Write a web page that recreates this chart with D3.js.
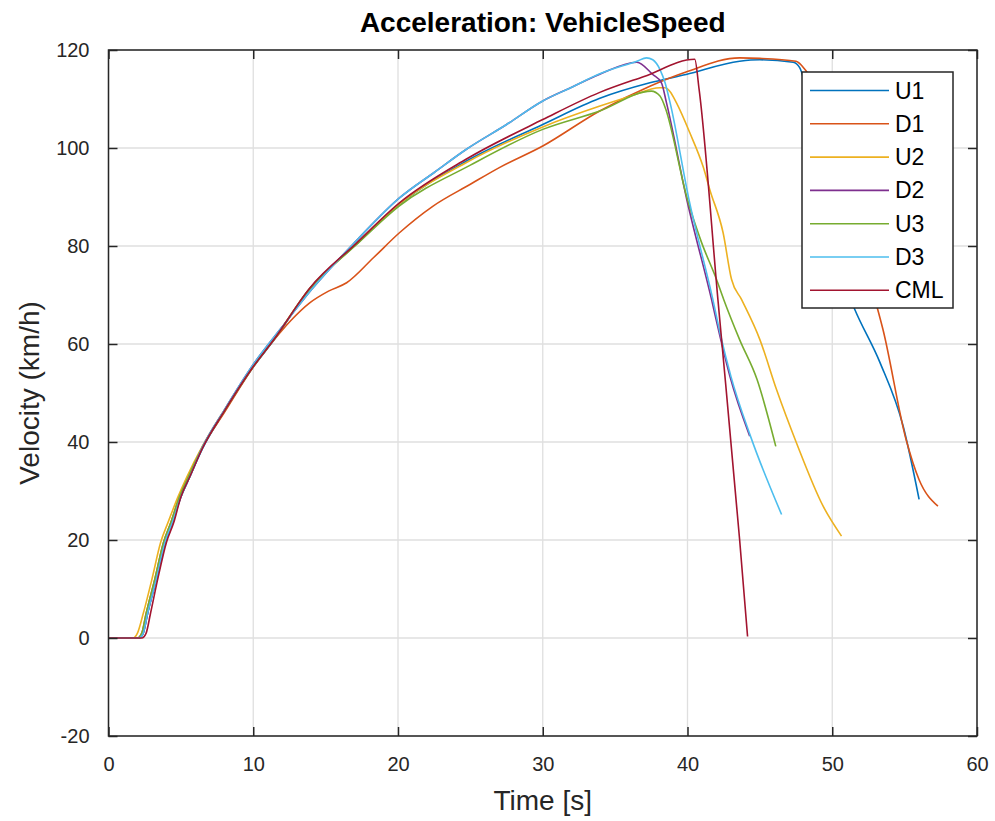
<!DOCTYPE html>
<html>
<head>
<meta charset="utf-8">
<script src="https://cdn.jsdelivr.net/npm/d3@7"></script>
<style>
  html, body { margin: 0; padding: 0; background: #fff; }
  svg { display: block; }
</style>
</head>
<body>
<svg id="chart" width="995" height="821"></svg>
<script>
// ---- data (time in s, velocity in km/h) ----
const seriesNames = ["U1", "D1", "U2", "D2", "U3", "D3", "CML"];
const seriesColors = ["#0072BD", "#D95319", "#EDB120", "#7E2F8E", "#77AC30", "#4DBEEE", "#A2142F"];

const u1T = [0,2.1,2.4,2.7,3.3,3.9,4.4,5.0,5.6,6.5,8,10,11.4,13.9,17.1,20.1,24.7,30,33.9,37.4,39.9,43.6,45,47.3,47.75,49.5,50.5,51.55,53.3,54.9,56.0];
const u1V = [0,0,1,5,12,19.5,23.5,28.8,32.8,38.7,46.2,55.3,60.7,71.3,80.3,88.5,97.3,104.8,110.1,113.3,115,117.7,118,117.5,116.4,86,75,67.1,56.2,43.2,28.3];

const d1T = [0,2.0,2.3,2.6,3.2,3.8,4.3,4.9,5.5,6.5,8,10,11.4,12.6,13.9,15.2,16.45,18.3,20.1,22.4,25,27,30,33.9,37.4,39.9,43.6,45,47.5,48.2,53.1,53.5,55.1,56.0,57.3];
const d1V = [0,0,1,5,12,19.5,23.5,28.8,32.8,39,46,55.3,60.7,64.8,68.4,70.8,72.5,77.6,82.7,88.1,92.6,96,100.4,107.5,112.6,115.5,118.4,118.3,117.7,115.7,67.5,63,40.5,32.3,26.9];

const u2T = [0,1.7,2.0,2.4,3.0,3.6,4.1,4.8,5.4,6.5,8,10,11.4,13.9,17.1,20.1,24.7,30,33.9,36,38.1,38.45,38.8,39.24,40.16,41.1,41.54,42.46,43.04,43.73,45.0,46.15,47.53,49.37,50.64];
const u2V = [0,0,1,5,12,19.5,23.5,28.8,32.8,39.2,46.5,55.5,60.9,71.3,80.3,88.6,97,104.3,108.5,110.5,112.3,112.3,111.5,109.2,103.1,96,91.5,82.7,73.2,69.1,60.9,50.7,39.8,26.9,20.8];

const d2T = [0,2.1,2.4,2.7,3.3,3.9,4.4,5.0,5.6,6.5,8,10,12,14,17.1,20.1,22.5,24.7,27.5,30,32,33.9,36.5,37.6,38.2,38.55,39.95,41.66,42.24,42.93,44.3];
const d2V = [0,0,1,5,12,19.5,23.5,28.8,32.8,39,46.5,55.8,63.5,71,81,89.8,95,99.7,104.8,109.6,112.4,115,117.5,115,113.3,109.2,89.5,69.1,61.6,53.4,41.2];

const u3T = [0,2.0,2.3,2.6,3.2,3.8,4.3,4.9,5.5,6.5,8,10,11.4,13.9,17.1,20.1,25,30,33.9,37.5,38.1,38.5,39.47,39.7,40.9,42.0,42.5,43.6,44.8,46.1];
const u3V = [0,0,1,5,12,19.5,23.5,28.8,32.8,39,46.3,55.4,60.8,71.2,80.2,88.2,96.5,103.8,107.5,111.6,110.6,107.9,96,92.9,81.3,73.2,69.1,60.9,52.8,39.1];

const d3T = [0,2.1,2.4,2.7,3.3,3.9,4.4,5.0,5.6,6.5,8,10,12,14,17.1,20.1,22.5,24.7,27.5,30,32,33.9,36.5,37.17,37.6,38.1,38.45,38.8,40.1,41.75,42.3,43.0,44.35,46.5];
const d3V = [0,0,1,5,12,19.5,23.5,28.8,32.8,39,46.5,55.8,63.5,71,81,89.8,95,99.7,104.8,109.6,112.4,115.1,117.7,118.4,118,116,113.3,109.2,89.5,69.1,61.6,53.4,41.2,25.2];

const cmlT = [0,2.3,2.6,2.9,3.4,4.0,4.5,5.0,5.6,6.5,8,10,11.4,13.9,17.1,20.1,24.7,30,33.9,37,40.5,40.8,42.1,43.6,44.15];
const cmlV = [0,0,1,5,12,19.5,23.5,28.8,32.8,38.8,46.3,55.4,60.8,71.4,80.5,88.8,97.7,105.8,111.3,114.6,118.1,112,69.1,20.1,0.3];

const xTicks = [0, 10, 20, 30, 40, 50, 60];
const yTicks = [-20, 0, 20, 40, 60, 80, 100, 120];

const titleText = "Acceleration: VehicleSpeed";
const xLabelText = "Time [s]";
const yLabelText = "Velocity (km/h)";

// ---- build ----
const seriesT = [u1T, d1T, u2T, d2T, u3T, d3T, cmlT];
const seriesV = [u1V, d1V, u2V, d2V, u3V, d3V, cmlV];
const series = seriesNames.map((name, i) => ({
  name, color: seriesColors[i],
  points: seriesT[i].map((t, j) => ({ t, v: seriesV[i][j] }))
}));

const svg = d3.select("#chart");
const W = 995, H = 821;
const m = { left: 108.5, right: 18, top: 50, bottom: 85 };
const iw = W - m.left - m.right, ih = H - m.top - m.bottom;
const font = "Helvetica, Arial, 'Liberation Sans', sans-serif";
const axisColor = "#262626";
const fmt = d => String(d); // hyphen-minus like the original

const x = d3.scaleLinear().domain([0, 60]).range([m.left, m.left + iw]);
const y = d3.scaleLinear().domain([-20, 120]).range([m.top + ih, m.top]);

svg.append("rect").attr("width", W).attr("height", H).attr("fill", "#fff");

// grid
const grid = svg.append("g");
grid.selectAll(".gx").data(xTicks).join("line")
  .attr("x1", d => x(d)).attr("x2", d => x(d))
  .attr("y1", m.top).attr("y2", m.top + ih)
  .attr("stroke", "#dfdfdf").attr("stroke-width", 1.3);
grid.selectAll(".gy").data(yTicks).join("line")
  .attr("x1", m.left).attr("x2", m.left + iw)
  .attr("y1", d => y(d)).attr("y2", d => y(d))
  .attr("stroke", "#dfdfdf").attr("stroke-width", 1.3);

// lines
const clipId = "plotclip";
svg.append("clipPath").attr("id", clipId).append("rect")
  .attr("x", m.left).attr("y", m.top).attr("width", iw).attr("height", ih);
const line = d3.line().x(d => x(d.t)).y(d => y(d.v)).curve(d3.curveMonotoneX);
svg.append("g").attr("clip-path", `url(#${clipId})`)
  .selectAll("path").data(series).join("path")
  .attr("d", d => line(d.points))
  .attr("fill", "none")
  .attr("stroke", d => d.color)
  .attr("stroke-width", 1.6)
  .attr("stroke-linejoin", "round");

// axes (ticks inward, on all four sides)
const tickLen = 9;
const axFont = 20;
const bottomAxis = d3.axisBottom(x).tickValues(xTicks).tickSize(-tickLen).tickPadding(tickLen + 12).tickFormat(fmt);
const topAxis = d3.axisTop(x).tickValues(xTicks).tickSize(-tickLen).tickFormat("");
const leftAxis = d3.axisLeft(y).tickValues(yTicks).tickSize(-tickLen).tickPadding(tickLen + 10).tickFormat(fmt);
const rightAxis = d3.axisRight(y).tickValues(yTicks).tickSize(-tickLen).tickFormat("");

function styleAxis(g) {
  g.select(".domain").attr("stroke", axisColor).attr("stroke-width", 1.5);
  g.selectAll(".tick line").attr("stroke", axisColor).attr("stroke-width", 1.5);
  g.selectAll(".tick text").attr("fill", axisColor).attr("font-family", font).attr("font-size", axFont);
}
svg.append("g").attr("transform", `translate(0,${m.top + ih})`).call(bottomAxis).call(styleAxis);
svg.append("g").attr("transform", `translate(0,${m.top})`).call(topAxis).call(styleAxis);
svg.append("g").attr("transform", `translate(${m.left},0)`).call(leftAxis).call(styleAxis);
svg.append("g").attr("transform", `translate(${m.left + iw},0)`).call(rightAxis).call(styleAxis);
svg.selectAll(".domain").attr("d", null);
svg.append("rect").attr("x", m.left).attr("y", m.top).attr("width", iw).attr("height", ih)
  .attr("fill", "none").attr("stroke", axisColor).attr("stroke-width", 1.5);

// title and labels
svg.append("text").attr("x", m.left + iw / 2).attr("y", 32)
  .attr("text-anchor", "middle").attr("font-family", font).attr("font-weight", "bold")
  .attr("font-size", 28).attr("fill", "#000").text(titleText);
svg.append("text").attr("x", m.left + iw / 2).attr("y", 810)
  .attr("text-anchor", "middle").attr("font-family", font)
  .attr("font-size", 28).attr("fill", axisColor).text(xLabelText);
svg.append("text").attr("transform", `translate(39,${m.top + ih / 2}) rotate(-90)`)
  .attr("text-anchor", "middle").attr("font-family", font)
  .attr("font-size", 28).attr("fill", axisColor).text(yLabelText);

// legend
const lg = svg.append("g").attr("transform", "translate(802,72)");
lg.append("rect").attr("width", 151).attr("height", 236)
  .attr("fill", "#fff").attr("stroke", axisColor).attr("stroke-width", 1.5);
const rowH = 33.3;
const items = lg.selectAll(".item").data(series).join("g")
  .attr("transform", (d, i) => `translate(0,${18.5 + i * rowH})`);
items.append("line").attr("x1", 8).attr("x2", 87).attr("y1", 0).attr("y2", 0)
  .attr("stroke", d => d.color).attr("stroke-width", 1.6);
items.append("text").attr("x", 93).attr("y", 0).attr("dy", "0.35em")
  .attr("font-family", font).attr("font-size", 23).attr("fill", "#000").text(d => d.name);
</script>
</body>
</html>
